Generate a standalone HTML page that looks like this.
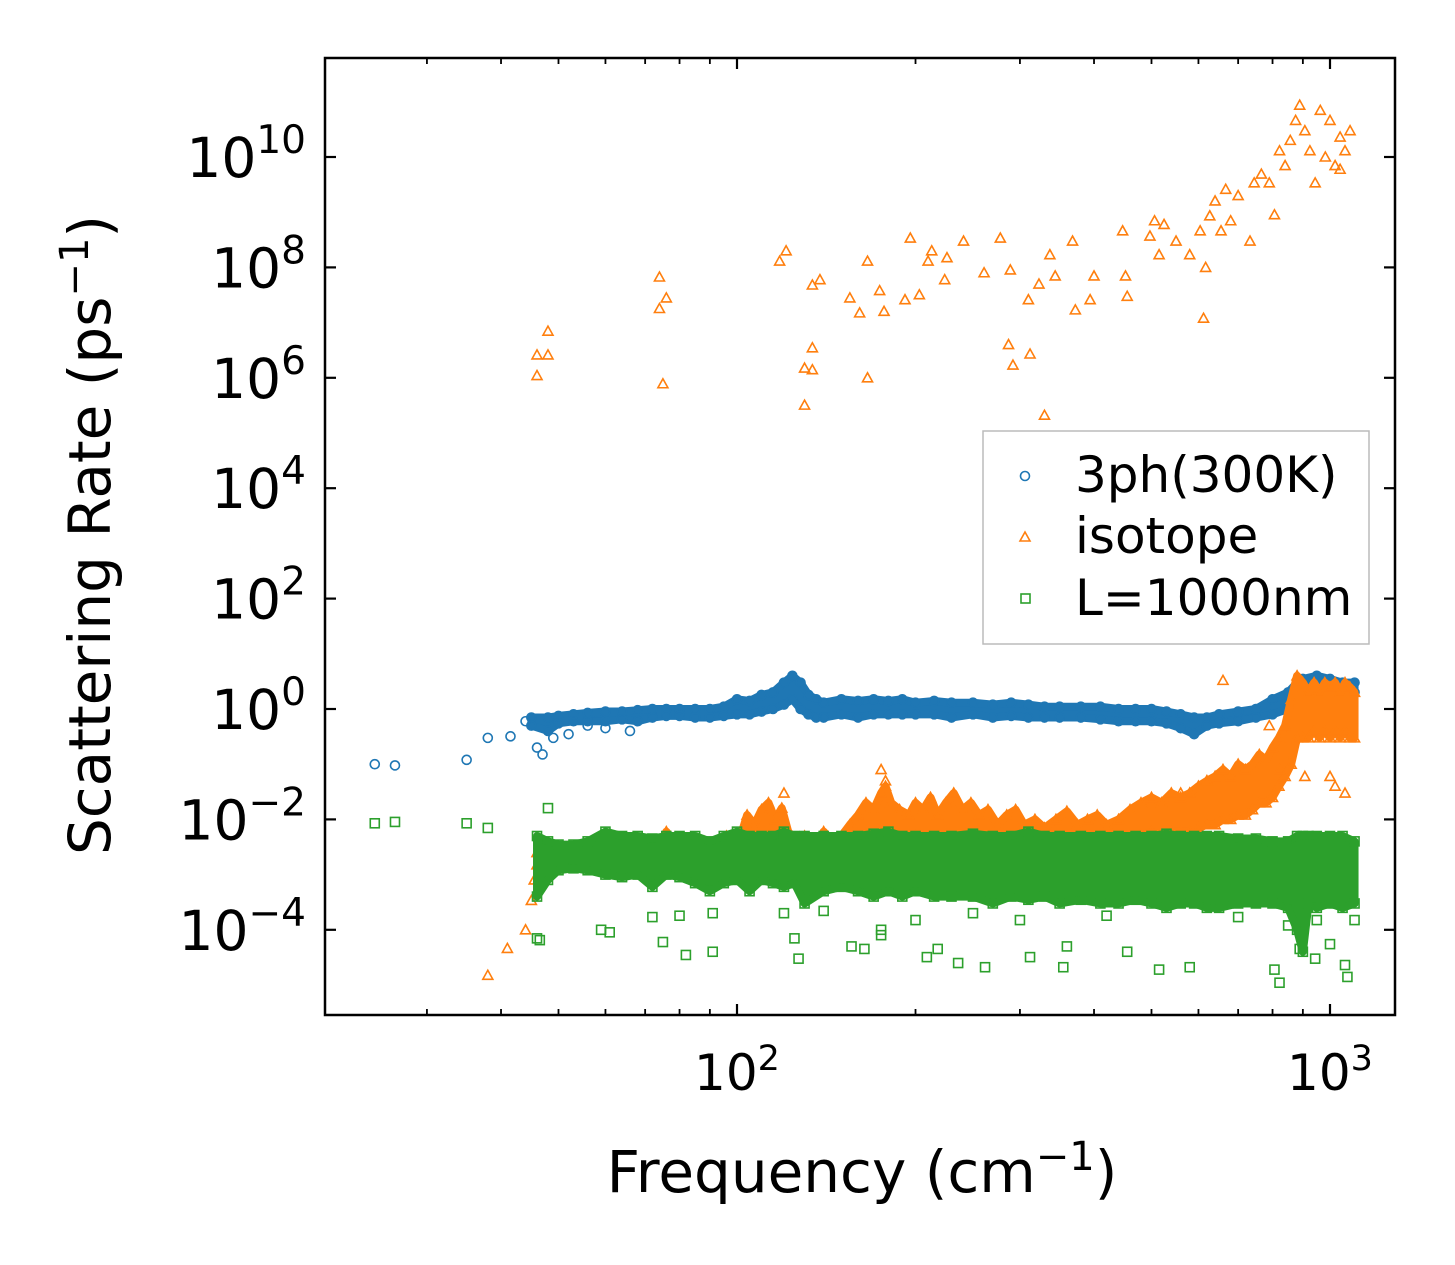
<!DOCTYPE html>
<html><head><meta charset="utf-8"><style>
html,body{margin:0;padding:0;background:#fff}
svg{display:block;font-family:"DejaVu Sans","Liberation Sans",sans-serif}
</style></head><body>
<svg id="chart" width="1455" height="1265" viewBox="0 0 1455 1265" xmlns="http://www.w3.org/2000/svg">
<rect x="0" y="0" width="1455" height="1265" fill="#fff"/>
<g id="marks"></g>
<g id="axes"></g>
<text x="110" y="535" font-size="58" text-anchor="middle" transform="rotate(-90 110 535)">Scattering Rate (ps<tspan dy="-22" font-size="40">−1</tspan><tspan dy="22">)</tspan></text>
<text x="862" y="1192" font-size="58" text-anchor="middle">Frequency (cm<tspan dy="-22" font-size="40">−1</tspan><tspan dy="22">)</tspan></text>
<g>
<rect x="983" y="431" width="386" height="213" fill="#fff" stroke="#bbb" stroke-width="1.5"/>
<circle cx="1025" cy="476" r="4.5" fill="none" stroke="#1f77b4" stroke-width="1.6"/>
<text x="1075" y="492" font-size="50">3ph(300K)</text>
<path d="M1025,532 l5,9 h-10 z" fill="none" stroke="#ff7f0e" stroke-width="1.6"/>
<text x="1075" y="553" font-size="50">isotope</text>
<rect x="1021" y="594" width="9" height="9" fill="none" stroke="#2ca02c" stroke-width="1.6"/>
<text x="1075" y="615" font-size="50">L=1000nm</text>
</g>
</svg>
<script>
// ---- data ----
const blueFreq=[24.5,26.5,35,38,41.5,44,46,47,49,52,56,60,66];
const blueRate=[0.1,0.095,0.12,0.3,0.32,0.6,0.2,0.15,0.3,0.35,0.5,0.45,0.4];
const blueBandFreq=[45,48,50,53,56,60,64,68,72,76,80,85,90,95,100,105,110,115,120,124,128,132,136,140,150,160,170,180,190,200,215,230,250,270,290,310,330,350,380,410,440,470,500,530,560,590,620,650,700,750,800,850,880,900,950,1000,1050,1100];
const blueBandHi=[0.7,0.7,0.75,0.8,0.85,0.9,0.9,0.95,1,1,1,1,1,1.1,1.5,1.4,1.8,2,3,4,3,1.8,1.5,1.3,1.5,1.4,1.5,1.4,1.5,1.3,1.4,1.3,1.3,1.2,1.3,1.2,1.1,1.1,1.1,1.1,1,1,1,0.9,0.8,0.7,0.7,0.8,0.9,1,1.5,2,3,3.5,4,3.5,3,3];
const blueBandLo=[0.5,0.4,0.55,0.6,0.6,0.6,0.65,0.6,0.7,0.75,0.75,0.7,0.7,0.75,0.8,0.8,0.9,1,1.2,1.5,1,0.8,0.7,0.7,0.8,0.7,0.8,0.8,0.8,0.8,0.8,0.7,0.8,0.7,0.75,0.7,0.7,0.7,0.7,0.65,0.6,0.6,0.6,0.55,0.45,0.35,0.5,0.55,0.6,0.7,0.8,1,1.5,1.5,2,2,2,2];

const orangeFreq=[46,46,48,48,74,74,76,75,118,121,134,138,130,134,130,134,155,161,166,166,174,177,192,196,203,210,213,224,226,241,261,278,289,287,292,310,323,330,312,337,344,368,372,394,400,447,452,455,497,506,515,525,550,580,604,617,612,627,640,655,667,680,700,733,745,766,790,806,822,840,857,875,889,907,925,944,963,982,1000,1020,1040,1060,1081,1040,
38,41,44,45,45.5,660,790,822,907,1020,175,178,120,560,620,1000,1060];
const orangeRate=[2.6e6,1.1e6,7e6,2.6e6,6.7e7,1.8e7,2.8e7,7.8e5,1.3e8,2e8,4.8e7,6e7,1.5e6,3.5e6,3.2e5,1.4e6,2.8e7,1.5e7,1.3e8,1e6,3.8e7,1.6e7,2.6e7,3.4e8,3.2e7,1.3e8,2e8,6e7,1.5e8,3e8,8e7,3.4e8,9e7,4e6,1.7e6,2.6e7,5e7,2.1e5,2.7e6,1.7e8,7e7,3e8,1.7e7,2.6e7,7e7,4.6e8,7e7,3e7,3.7e8,7e8,1.7e8,6e8,3e8,1.7e8,4.6e8,1e8,1.2e7,8.6e8,1.6e9,4.6e8,2.6e9,7e8,2e9,3e8,3.4e9,4.9e9,3.4e9,9e8,1.3e10,7e9,2e10,4.6e10,8.7e10,3e10,1.3e10,3.4e9,7e10,1e10,4.6e10,7e9,2.3e10,1.3e10,3e10,6e9,
1.5e-5,4.6e-5,1e-4,3.4e-4,8e-4,3.3,0.5,0.08,0.06,0.04,0.08,0.05,0.03,0.03,0.05,0.06,0.03];
const orangeBandFreq=[46,48,50,52,55,58,60,63,66,70,73,76,80,84,88,92,96,100,104,107,110,113,116,119,122,126,130,135,140,145,150,155,160,165,170,175,178,182,188,195,200,206,212,218,225,232,240,248,256,265,275,285,295,305,318,330,345,360,375,390,405,420,440,460,480,500,520,540,560,580,600,620,640,660,680,700,720,740,760,780,800,820,840,860,880,900,920,940,960,980,1000,1020,1040,1060,1080,1100];
const orangeBandHi=[2.5e-3,3e-3,2e-3,2.6e-3,2.2e-3,2.8e-3,2e-3,3e-3,2.5e-3,3.5e-3,2.2e-3,6e-3,3e-3,2.5e-3,4e-3,2e-3,5e-3,3e-3,1.2e-2,8e-3,1.5e-2,2e-2,1e-2,1.6e-2,6e-3,4e-3,5e-3,3e-3,6e-3,4e-3,5e-3,8e-3,1.2e-2,2e-2,1.5e-2,3e-2,4e-2,2e-2,1.5e-2,1.2e-2,2e-2,1.5e-2,2.5e-2,1.2e-2,2e-2,3e-2,1.5e-2,2e-2,1.2e-2,1.5e-2,8e-3,1.2e-2,1.5e-2,8e-3,1e-2,7e-3,1e-2,1.4e-2,8e-3,1e-2,1.2e-2,8e-3,1e-2,1.5e-2,2e-2,2.5e-2,2e-2,3e-2,2.5e-2,3e-2,4e-2,5e-2,6e-2,8e-2,6e-2,1e-1,8e-2,1e-1,1.5e-1,1.2e-1,2e-1,3e-1,5e-1,1.5,4,3,2,3,2,3,2.5,3,2,3,2.5,2];
const orangeBandLo=[1.5e-3,1.6e-3,1.4e-3,1.6e-3,1.5e-3,1.6e-3,1.4e-3,1.6e-3,1.5e-3,1.7e-3,1.4e-3,1.8e-3,1.6e-3,1.5e-3,1.7e-3,1.4e-3,1.6e-3,1.6e-3,2e-3,2e-3,2.5e-3,3e-3,2.5e-3,2.5e-3,2e-3,1.8e-3,2e-3,1.8e-3,2e-3,1.8e-3,2e-3,2.5e-3,3e-3,4e-3,4e-3,5e-3,5e-3,5e-3,5e-3,4e-3,5e-3,5e-3,5e-3,4e-3,5e-3,5e-3,4e-3,4e-3,4e-3,4e-3,3.5e-3,4e-3,4e-3,3.5e-3,4e-3,3.5e-3,4e-3,4e-3,3.5e-3,4e-3,4e-3,3.5e-3,4e-3,4.5e-3,5e-3,6e-3,5e-3,6e-3,6e-3,6e-3,7e-3,8e-3,8e-3,1e-2,1e-2,1.2e-2,1.2e-2,1.5e-2,2e-2,2e-2,2.5e-2,4e-2,6e-2,0.1,0.3,0.3,0.3,0.4,0.3,0.4,0.3,0.4,0.3,0.4,0.3,0.3];

const greenFreq=[24.5,26.5,35,38,48,46,46.5,59,61,75,82,91,72,80,91,125,127,156,164,175,175,209,218,236,262,312,355,360,455,515,580,806,822,889,944,1000,1060,1070,120,140,200,250,300,420,700,850,950,1100];
const greenRate=[8.5e-3,9e-3,8.5e-3,7e-3,1.6e-2,7e-5,6.5e-5,1e-4,9e-5,6e-5,3.5e-5,4e-5,1.7e-4,1.8e-4,2e-4,7e-5,3e-5,5e-5,4.5e-5,1e-4,8e-5,3.2e-5,4.5e-5,2.5e-5,2.1e-5,3.2e-5,2.1e-5,5e-5,4e-5,1.9e-5,2.1e-5,1.9e-5,1.1e-5,4.5e-5,3e-5,5.5e-5,2.3e-5,1.4e-5,2e-4,2.2e-4,1.5e-4,2e-4,1.5e-4,1.8e-4,1.7e-4,1.2e-4,1.5e-4,1.5e-4];
const greenBandFreq=[46,48,50,53,56,60,64,68,72,76,80,85,90,95,100,105,110,115,120,125,130,140,150,160,170,180,190,200,215,230,250,270,290,310,330,350,380,410,440,470,500,530,560,590,620,650,700,750,800,850,880,900,920,950,1000,1050,1100];
const greenBandHi=[5e-3,4e-3,3.5e-3,3.5e-3,4e-3,6e-3,5e-3,5e-3,4.5e-3,5e-3,5e-3,5e-3,4e-3,5e-3,6e-3,5e-3,5e-3,5e-3,6e-3,5e-3,5e-3,5e-3,5e-3,5e-3,5.5e-3,6e-3,5e-3,5e-3,5e-3,5e-3,5.5e-3,5e-3,5e-3,6e-3,5e-3,5e-3,5e-3,5e-3,5e-3,5e-3,5e-3,5.5e-3,5e-3,5e-3,5e-3,5e-3,4.5e-3,4.5e-3,4e-3,4e-3,5e-3,5e-3,5e-3,5e-3,5e-3,5e-3,4e-3];
const greenBandLo=[4e-4,8e-4,1.2e-3,1.3e-3,1.2e-3,1e-3,9e-4,1e-3,6e-4,1e-3,9e-4,7e-4,5e-4,7e-4,8e-4,5e-4,8e-4,7e-4,6e-4,7e-4,3e-4,5e-4,6e-4,5e-4,4e-4,5e-4,4e-4,5e-4,4e-4,4e-4,4e-4,3e-4,4e-4,3.5e-4,4e-4,3e-4,3.5e-4,3e-4,3e-4,3.5e-4,3e-4,2.5e-4,3e-4,3e-4,2.5e-4,2.5e-4,3e-4,3e-4,3e-4,2.5e-4,1e-4,4e-5,3e-4,2.5e-4,3e-4,2.5e-4,3e-4];

const xTickVals=[100,1000];
const xTickLabels=["2","3"];
const yTickVals=[1e-4,1e-2,1,1e2,1e4,1e6,1e8,1e10];
const yTickLabels=["−4","−2","0","2","4","6","8","10"];

// ---- axes functions ----
const L=325,R=1395,T=58,B=1015;
const X=v=>737+(Math.log10(v)-2)*593;
const Y=v=>709-Math.log10(v)*55.2;
const NS="http://www.w3.org/2000/svg";
const marks=document.getElementById('marks');
const axes=document.getElementById('axes');
function el(tag,attrs,parent){const e=document.createElementNS(NS,tag);for(const k in attrs)e.setAttribute(k,attrs[k]);parent.appendChild(e);return e;}

const clip=el('clipPath',{id:'clip'},marks);
el('rect',{x:L,y:T,width:R-L,height:B-T},clip);
const g=el('g',{'clip-path':'url(#clip)'},marks);

function band(freq,hi,lo,color,name){
  let d='M'+freq.map((f,i)=>X(f)+','+Y(hi[i])).join(' L');
  for(let i=freq.length-1;i>=0;i--)d+=' L'+X(freq[i])+','+Y(lo[i]);
  const p=el('path',{d:d+' Z',fill:color,stroke:color,'stroke-width':8,'stroke-linejoin':'round'},g);
  
  
}
function marker(type,f,r,color,name){
  const x=X(f),y=Y(r);let m;
  if(type==='c')m=el('circle',{cx:x,cy:y,r:4.5,fill:'none',stroke:color,'stroke-width':1.6},g);
  else if(type==='t')m=el('path',{d:`M${x},${y-5} l5,9 h-10 z`,fill:'none',stroke:color,'stroke-width':1.6},g);
  else m=el('rect',{x:x-4.5,y:y-4.5,width:9,height:9,fill:'none',stroke:color,'stroke-width':1.6},g);
  
  
}
const BL='#1f77b4',OR='#ff7f0e',GR='#2ca02c';
band(blueBandFreq,blueBandHi,blueBandLo,BL,'3ph-band');
blueBandFreq.forEach((f,i)=>{marker('c',f,blueBandHi[i],BL,'3ph-point');marker('c',f,blueBandLo[i],BL,'3ph-point');});
blueFreq.forEach((f,i)=>marker('c',f,blueRate[i],BL,'3ph-point'));
band(orangeBandFreq,orangeBandHi,orangeBandLo,OR,'isotope-band');
orangeBandFreq.forEach((f,i)=>{marker('t',f,orangeBandHi[i],OR,'isotope-point');marker('t',f,orangeBandLo[i],OR,'isotope-point');});
orangeFreq.forEach((f,i)=>marker('t',f,orangeRate[i],OR,'isotope-point'));
band(greenBandFreq,greenBandHi,greenBandLo,GR,'boundary-band');
greenBandFreq.forEach((f,i)=>{marker('s',f,greenBandHi[i],GR,'boundary-point');marker('s',f,greenBandLo[i],GR,'boundary-point');});
greenFreq.forEach((f,i)=>marker('s',f,greenRate[i],GR,'boundary-point'));

// frame
const fr=el('rect',{x:L,y:T,width:R-L,height:B-T,fill:'none',stroke:'#000','stroke-width':2.5},axes);


// x ticks
const minors=[];
for(let dec=10;dec<=1000;dec*=10)for(let k=2;k<=9;k++)minors.push(k*dec);
minors.forEach(v=>{const x=X(v);if(x<L||x>R)return;
  el('line',{x1:x,x2:x,y1:B,y2:B-6,stroke:'#000','stroke-width':1.8},axes);
  el('line',{x1:x,x2:x,y1:T,y2:T+6,stroke:'#000','stroke-width':1.8},axes);});
xTickVals.forEach((v,i)=>{const x=X(v);
  el('line',{x1:x,x2:x,y1:B,y2:B-11,stroke:'#000','stroke-width':2.2},axes);
  el('line',{x1:x,x2:x,y1:T,y2:T+11,stroke:'#000','stroke-width':2.2},axes);
  const t=el('text',{x:x,y:1090,'font-size':50,'text-anchor':'middle'},axes);
  
  
  t.innerHTML='10<tspan dy="-20" font-size="35">'+xTickLabels[i]+'</tspan>';});
yTickVals.forEach((v,i)=>{const y=Y(v);
  el('line',{x1:L,x2:L+11,y1:y,y2:y,stroke:'#000','stroke-width':2.2},axes);
  el('line',{x1:R,x2:R-11,y1:y,y2:y,stroke:'#000','stroke-width':2.2},axes);
  const t=el('text',{x:306,y:y+20,'font-size':55,'text-anchor':'end'},axes);
  
  
  t.innerHTML='10<tspan dy="-24" font-size="39">'+yTickLabels[i]+'</tspan>';});
</script>
</body></html>
